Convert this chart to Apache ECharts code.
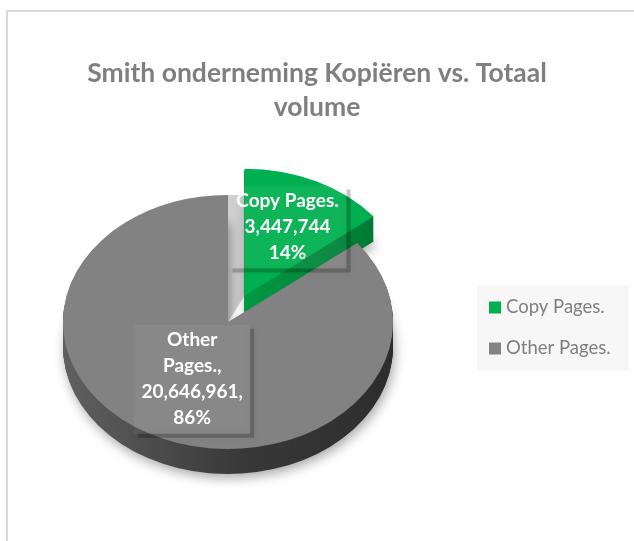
<!DOCTYPE html>
<html lang="nl">
<head>
<meta charset="UTF-8">
<title>Smith onderneming Kopiëren vs. Totaal volume</title>
<script src="https://cdn.jsdelivr.net/npm/echarts@6/dist/echarts.min.js"></script>
<style>
    * { margin: 0; padding: 0; }
    body { background: #fff; }
    #chart { width: 634px; height: 541px; }
</style>
</head>
<body>
<div id="chart"></div>
<script>
    // data
    var categories = ['Copy Pages.', 'Other Pages.'];
    var values = [3447744, 20646961];
    var labelNames = ['Copy Pages.', 'Other\nPages.'];
    var labelSeps = ['\n', ',\n'];

    // look
    var topColors = ['#00b050', '#828282'];
    var sideStops = [
        [[0, '#009944'], [1, '#007a36']],
        [[0, '#606060'], [0.55, '#383838'], [1, '#2d2d2d']]
    ];
    var explode = [38, 0];
    var labelR = [0.6, 0.5];
    var labelW = [118, 116];

    var CX = 228, CY = 322, RX = 165, RY = 127, DEPTH = 25;
    var K = RY / RX;
    var LH = 26;
    var FONT = 'Lato, "Open Sans", sans-serif';

    var total = values.reduce(function (a, b) { return a + b; }, 0);

    function makeRender(i) {
        return function (params, api) {
            var before = 0;
            for (var j = 0; j < i; j++) before += values[j];
            var v = api.value(0);
            var a0 = before / total * Math.PI * 2;
            var a1 = (before + v) / total * Math.PI * 2;
            var mid = (a0 + a1) / 2;
            var ex = explode[i] * Math.sin(mid);
            var ey = -explode[i] * Math.cos(mid) * K;
            var gx = CX + ex, gy = CY + ey;
            var base = i * 3 + 1;

            var shape = { cx: 0, cy: 0, r: RX, r0: 0, startAngle: a0 - Math.PI / 2, endAngle: a1 - Math.PI / 2, clockwise: true };
            var grad = new echarts.graphic.LinearGradient(0, 0, 1, 0, sideStops[i].map(function (s) {
                return { offset: s[0], color: s[1] };
            }));

            var kids = [];
            for (var d = DEPTH; d >= 1; d--) {
                var st = { fill: grad };
                if (d === DEPTH) {
                    st.shadowBlur = 12;
                    st.shadowColor = 'rgba(0,0,0,0.35)';
                    st.shadowOffsetX = 2;
                    st.shadowOffsetY = 4;
                }
                kids.push({ type: 'sector', shape: Object.assign({}, shape, { cy: d / K }), style: st, z2: base });
            }
            kids.push({ type: 'sector', shape: shape, style: { fill: topColors[i] }, z2: base + 1 });

            var out = [{ type: 'group', x: gx, y: gy, scaleY: K, children: kids }];

            // inner wall seen through the gap left by the exploded slice
            if (i > 0 && explode[0] > 0) {
                var m0 = values[0] / total * Math.PI;
                var wx = explode[0] * Math.sin(m0);
                var wy = -explode[0] * Math.cos(m0) * K;
                out.push({
                    type: 'polygon',
                    shape: { points: [[CX, CY - RY], [CX + wx, CY - RY], [CX + wx, CY + wy], [CX, CY]] },
                    style: { fill: '#cdcdcd' },
                    z2: 0
                });
            }

            // label
            var lx = gx + labelR[i] * RX * Math.sin(mid);
            var ly = gy - labelR[i] * RY * Math.cos(mid);
            var pct = Math.round(v / total * 100) + '%';
            var txt = labelNames[i] + labelSeps[i] + v.toLocaleString('en-US') + labelSeps[i] + pct;
            var lines = txt.split('\n').length;
            var w = labelW[i], h = lines * LH + 5;
            var bx = lx - w / 2, by = ly - h / 2;
            out.push({
                type: 'rect', shape: { x: bx, y: by, width: w, height: h },
                style: { fill: 'rgba(255,255,255,0.05)' }, z2: 20
            });
            out.push({
                type: 'polygon',
                shape: { points: [[bx + w, by + 4], [bx + w + 4, by + 4], [bx + w + 4, by + h + 4], [bx + 4, by + h + 4], [bx + 4, by + h], [bx + w, by + h]] },
                style: { fill: 'rgba(0,0,0,0.2)', shadowBlur: 4, shadowColor: 'rgba(0,0,0,0.3)' },
                z2: 20
            });
            out.push({
                type: 'text', z2: 21,
                style: {
                    text: txt, x: lx, y: ly, fill: '#ffffff',
                    font: 'bold 19px ' + FONT, lineHeight: LH,
                    align: 'center', verticalAlign: 'middle'
                }
            });
            return { type: 'group', children: out };
        };
    }

    var chart = echarts.init(document.getElementById('chart'));
    chart.setOption({
        animation: false,
        title: {
            text: 'Smith onderneming Kopiëren vs. Totaal\nvolume',
            left: 'center',
            top: 51,
            textStyle: { color: '#7f7f7f', fontSize: 26.5, fontWeight: 'bold', fontFamily: FONT, lineHeight: 34 }
        },
        legend: {
            orient: 'vertical',
            left: 477,
            top: 285,
            icon: 'rect',
            itemWidth: 12,
            itemHeight: 12,
            itemGap: 22,
            padding: [13, 18, 13, 12],
            backgroundColor: '#f7f7f7',
            selectedMode: false,
            textStyle: { color: '#7f7f7f', fontSize: 18.5, fontFamily: FONT },
            data: categories
        },
        graphic: [{
            type: 'rect', silent: true, z: -1,
            shape: { x: 7, y: 11, width: 800, height: 800 },
            style: { fill: 'none', stroke: '#d9d9d9', lineWidth: 2 }
        }],
        series: categories.map(function (name, i) {
            return {
                type: 'custom',
                name: name,
                coordinateSystem: 'none',
                itemStyle: { color: topColors[i] },
                silent: true,
                renderItem: makeRender(i),
                data: [values[i]]
            };
        })
    });
</script>
</body>
</html>
